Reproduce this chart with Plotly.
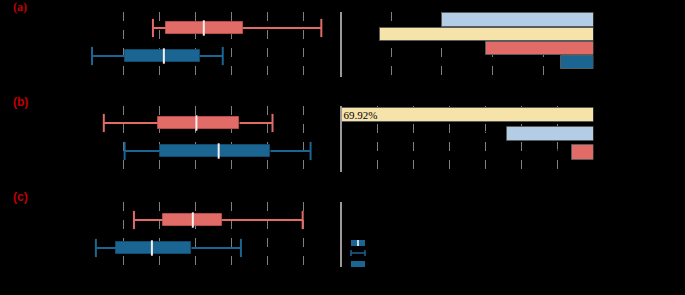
import plotly.graph_objects as go

# ---------------- data ----------------
categories = ["No Spray", "Spray"]

temp_min = [27.26, 25.14]
temp_low = [27.71, 26.28]
temp_mean = [29.03, 27.64]
temp_high = [30.38, 28.90]
temp_max = [33.12, 29.69]

rh_min = [62.2, 65.1]
rh_low = [69.7, 70.0]
rh_mean = [75.1, 78.2]
rh_high = [81.1, 85.4]
rh_max = [85.7, 91.0]

ts_min = [0.64, 0.11]
ts_low = [1.04, 0.39]
ts_mean = [1.46, 0.89]
ts_high = [1.86, 1.44]
ts_max = [2.99, 2.13]

dT_labels = ["0°C ≤ ΔT < 1°C", "1°C ≤ ΔT < 2°C", "2°C ≤ ΔT < 3°C", "3°C ≤ ΔT < 4°C"]
dT_pct = [29.92, 42.23, 21.26, 6.59]
dRH_labels = ["0% ≤ ΔRH < 5%", "5% ≤ ΔRH < 10%", "10% ≤ ΔRH < 15%"]
dRH_pct = [69.92, 23.98, 6.10]

temp_ticks = [25.0, 27.5, 30.0, 32.5]
temp_ticktext = ["25.0°C", "27.5°C", "30.0°C", "32.5°C"]
rh_ticks = [60, 70, 80, 90]
rh_ticktext = ["60%", "70%", "80%", "90%"]
ts_ticks = [0, 1, 2, 3]
ts_ticktext = ["0  (Neutral)", "1 (Slightly Warm)", "2 (Warm)", "3 (Hot)"]

# ---------------- style ----------------
W, H = 685, 295
RED = "#E06B67"
RED_EDGE = "#B94B48"
BLUE = "#1B6592"
BLUE_EDGE = "#124A6C"
LBLUE = "#B4CDE6"
YELLOW = "#F6E3A9"
GRID = "#808080"
SERIF = "Liberation Serif"
FS = 9
box_colors = [RED, BLUE]
box_edges = [RED_EDGE, BLUE_EDGE]


def px(x):
    return x / W


def py(y):
    return 1 - y / H


fig = go.Figure()


def add_box_panel(xa, ya, lo, hi, mean, mn, mx):
    ypos = list(range(len(categories)))
    fig.add_trace(go.Bar(
        orientation="h", y=ypos, base=lo, x=[h - l for h, l in zip(hi, lo)],
        width=0.43, marker=dict(color=box_colors, line=dict(color=box_edges, width=1)),
        xaxis=xa, yaxis=ya, showlegend=False, hoverinfo="skip"))
    for i in ypos:
        c = box_colors[i]
        fig.add_trace(go.Scatter(
            x=[mn[i], lo[i], None, hi[i], mx[i]], y=[i, i, None, i, i],
            mode="lines", line=dict(color=c, width=2),
            xaxis=xa, yaxis=ya, showlegend=False, hoverinfo="skip"))
        fig.add_trace(go.Scatter(
            x=[mn[i], mx[i]], y=[i, i], mode="markers",
            marker=dict(symbol="line-ns", size=13, line=dict(color=c, width=2)),
            xaxis=xa, yaxis=ya, showlegend=False, hoverinfo="skip", cliponaxis=False))
    fig.add_trace(go.Scatter(
        x=mean, y=ypos, mode="markers",
        marker=dict(symbol="line-ns", size=11, line=dict(color="#F4F0F0", width=2)),
        xaxis=xa, yaxis=ya, showlegend=False, hoverinfo="skip"))


add_box_panel("x", "y", temp_low, temp_high, temp_mean, temp_min, temp_max)
add_box_panel("x3", "y3", rh_low, rh_high, rh_mean, rh_min, rh_max)
add_box_panel("x5", "y5", ts_low, ts_high, ts_mean, ts_min, ts_max)

# right bar panels
fig.add_trace(go.Bar(
    orientation="h", y=list(range(len(dT_labels))), x=dT_pct, width=0.92,
    marker=dict(color=[LBLUE, YELLOW, RED, BLUE], line=dict(color="#5a5a5a", width=1)),
    texttemplate="%{x:.2f}%", textposition="outside", constraintext="none",
    textfont=dict(family=SERIF, size=FS, color="black"), cliponaxis=False,
    xaxis="x2", yaxis="y2", showlegend=False, hoverinfo="skip"))
fig.add_trace(go.Bar(
    orientation="h", y=list(range(len(dRH_labels))), x=dRH_pct, width=0.75,
    marker=dict(color=[YELLOW, LBLUE, RED], line=dict(color="#5a5a5a", width=1)),
    texttemplate="%{x:.2f}%", textposition=["inside", "outside", "outside"],
    insidetextanchor="end", constraintext="none",
    textfont=dict(family=SERIF, size=11, color="black"), cliponaxis=False,
    xaxis="x4", yaxis="y4", showlegend=False, hoverinfo="skip"))

# ---------------- axes ----------------
left_dom = [px(88), px(340)]
right_dom = [px(341), px(594)]
row_dom = {
    "a": [py(77), py(12)],
    "b": [py(172), py(106)],
    "c": [py(267), py(202)],
}
tickfont = dict(family=SERIF, size=FS, color="black")


def left_x(rng, tv, tt, minor_dtick, anchor):
    return dict(domain=left_dom, range=rng, anchor=anchor, tickvals=tv, ticktext=tt,
                tickfont=tickfont, showgrid=True, gridcolor=GRID, griddash="dash",
                gridwidth=1, zeroline=False, showline=False, ticks="", automargin=False,
                minor=dict(dtick=minor_dtick, tick0=rng[0], showgrid=True,
                           gridcolor=GRID, griddash="dash", gridwidth=1))


def left_y(rng, anchor, dom):
    return dict(domain=dom, range=rng, anchor=anchor, tickvals=[0, 1], ticktext=categories,
                tickfont=tickfont, showgrid=False, zeroline=False, ticks="",
                ticklabelstandoff=4, automargin=False)


fig.update_layout(
    xaxis=left_x([25, 33.77], temp_ticks, temp_ticktext, 1.25, "y"),
    yaxis=left_y([1.75, -0.571], "x", row_dom["a"]),
    xaxis3=left_x([60, 95.1], rh_ticks, rh_ticktext, 5, "y3"),
    yaxis3=left_y([1.75, -0.607], "x3", row_dom["b"]),
    xaxis5=left_x([0, 3.51], ts_ticks, ts_ticktext, 0.5, "y5"),
    yaxis5=left_y([1.679, -0.643], "x5", row_dom["c"]),
    xaxis2=dict(domain=right_dom, range=[49.9, 0], anchor="y2",
                ticksuffix="%", tickfont=tickfont, showgrid=True, gridcolor=GRID,
                griddash="dash", zeroline=False, ticks="", automargin=False,
                tickvals=[10, 20, 30, 40]),
    yaxis2=dict(domain=row_dom["a"], range=[4.02, -0.565], anchor="x2", side="right",
                tickvals=list(range(len(dT_labels))), ticktext=dT_labels,
                tickfont=tickfont, showgrid=False, zeroline=False, ticks="",
                ticklabelstandoff=3, automargin=False),
    xaxis4=dict(domain=right_dom, range=[70, 0], anchor="y4",
                tickvals=[10, 20, 30, 40, 50, 60], ticksuffix="%", tickfont=tickfont,
                showgrid=True, gridcolor=GRID, griddash="dash", zeroline=False, ticks="",
                automargin=False),
    yaxis4=dict(domain=row_dom["b"], range=[3.04, -0.48], anchor="x4", side="right",
                tickvals=list(range(len(dRH_labels))), ticktext=dRH_labels,
                tickfont=tickfont, showgrid=False, zeroline=False, ticks="",
                ticklabelstandoff=3, automargin=False),
)

# ---------------- decorations ----------------
shapes = []
for (t, b) in [(14, 72), (108, 166), (204, 261)]:
    shapes.append(dict(type="rect", xref="paper", yref="paper", x0=px(14), x1=px(88),
                       y0=py(b), y1=py(t), line=dict(color="black", width=1), layer="above"))
for (t, b) in [(12, 72), (106, 163)]:
    shapes.append(dict(type="rect", xref="paper", yref="paper", x0=px(594), x1=px(673),
                       y0=py(b), y1=py(t), line=dict(color="black", width=1), layer="above"))
for (t, b) in [(12, 77), (106, 172), (202, 267)]:
    shapes.append(dict(type="line", xref="paper", yref="paper", x0=px(341), x1=px(341),
                       y0=py(b), y1=py(t), line=dict(color="#9a9a9a", width=2), layer="above"))

# manual legend (panel c, right)
shapes.append(dict(type="rect", xref="paper", yref="paper", x0=px(351), x1=px(365),
                   y0=py(246), y1=py(240), fillcolor=BLUE, line=dict(width=0)))
shapes.append(dict(type="line", xref="paper", yref="paper", x0=px(358), x1=px(358),
                   y0=py(246), y1=py(240), line=dict(color="white", width=1.5)))
shapes.append(dict(type="line", xref="paper", yref="paper", x0=px(351), x1=px(365),
                   y0=py(253), y1=py(253), line=dict(color=BLUE, width=1.5)))
for xx in (351, 365):
    shapes.append(dict(type="line", xref="paper", yref="paper", x0=px(xx), x1=px(xx),
                       y0=py(256), y1=py(250), line=dict(color=BLUE, width=1.5)))
shapes.append(dict(type="rect", xref="paper", yref="paper", x0=px(351), x1=px(365),
                   y0=py(267), y1=py(261), fillcolor=BLUE, line=dict(width=0)))

annotations = []
for lab, yy in [("Mean", 243), ("Min-Max", 253), ("Mean±variance", 264)]:
    annotations.append(dict(text=lab, xref="paper", yref="paper", x=px(369), y=py(yy),
                            xanchor="left", yanchor="middle", showarrow=False,
                            font=dict(family=SERIF, size=FS, color="black")))
for lab, yy, fam in [("(a)", 7, SERIF), ("(b)", 102, "Liberation Sans"), ("(c)", 197, "Liberation Sans")]:
    annotations.append(dict(text="<b>%s</b>" % lab, xref="paper", yref="paper", x=px(11), y=py(yy),
                            xanchor="left", yanchor="middle", showarrow=False,
                            font=dict(family=fam, size=12, color="#C00000")))
for t, b in [(14, 72), (108, 166), (204, 261)]:
    annotations.append(dict(text="Indoor", xref="paper", yref="paper", x=px(20), y=py((t + b) / 2),
                            textangle=-90, showarrow=False, xanchor="center", yanchor="middle",
                            font=dict(family=SERIF, size=FS, color="black")))
for t, b in [(12, 72), (106, 163)]:
    annotations.append(dict(text="Indoor", xref="paper", yref="paper", x=px(668), y=py((t + b) / 2),
                            textangle=90, showarrow=False, xanchor="center", yanchor="middle",
                            font=dict(family=SERIF, size=FS, color="black")))

fig.update_layout(
    width=W, height=H, autosize=False, margin=dict(l=0, r=0, t=0, b=0, pad=0),
    paper_bgcolor="black", plot_bgcolor="black",
    font=dict(family=SERIF, size=FS, color="black"),
    bargap=0, barmode="overlay", showlegend=False,
    shapes=shapes, annotations=annotations,
)

fig.write_html(
    "out.html",
    config={"responsive": False, "displayModeBar": False},
    post_script="document.body.style.margin='0';document.body.style.background='black';"
                "document.documentElement.style.background='black';",
)
